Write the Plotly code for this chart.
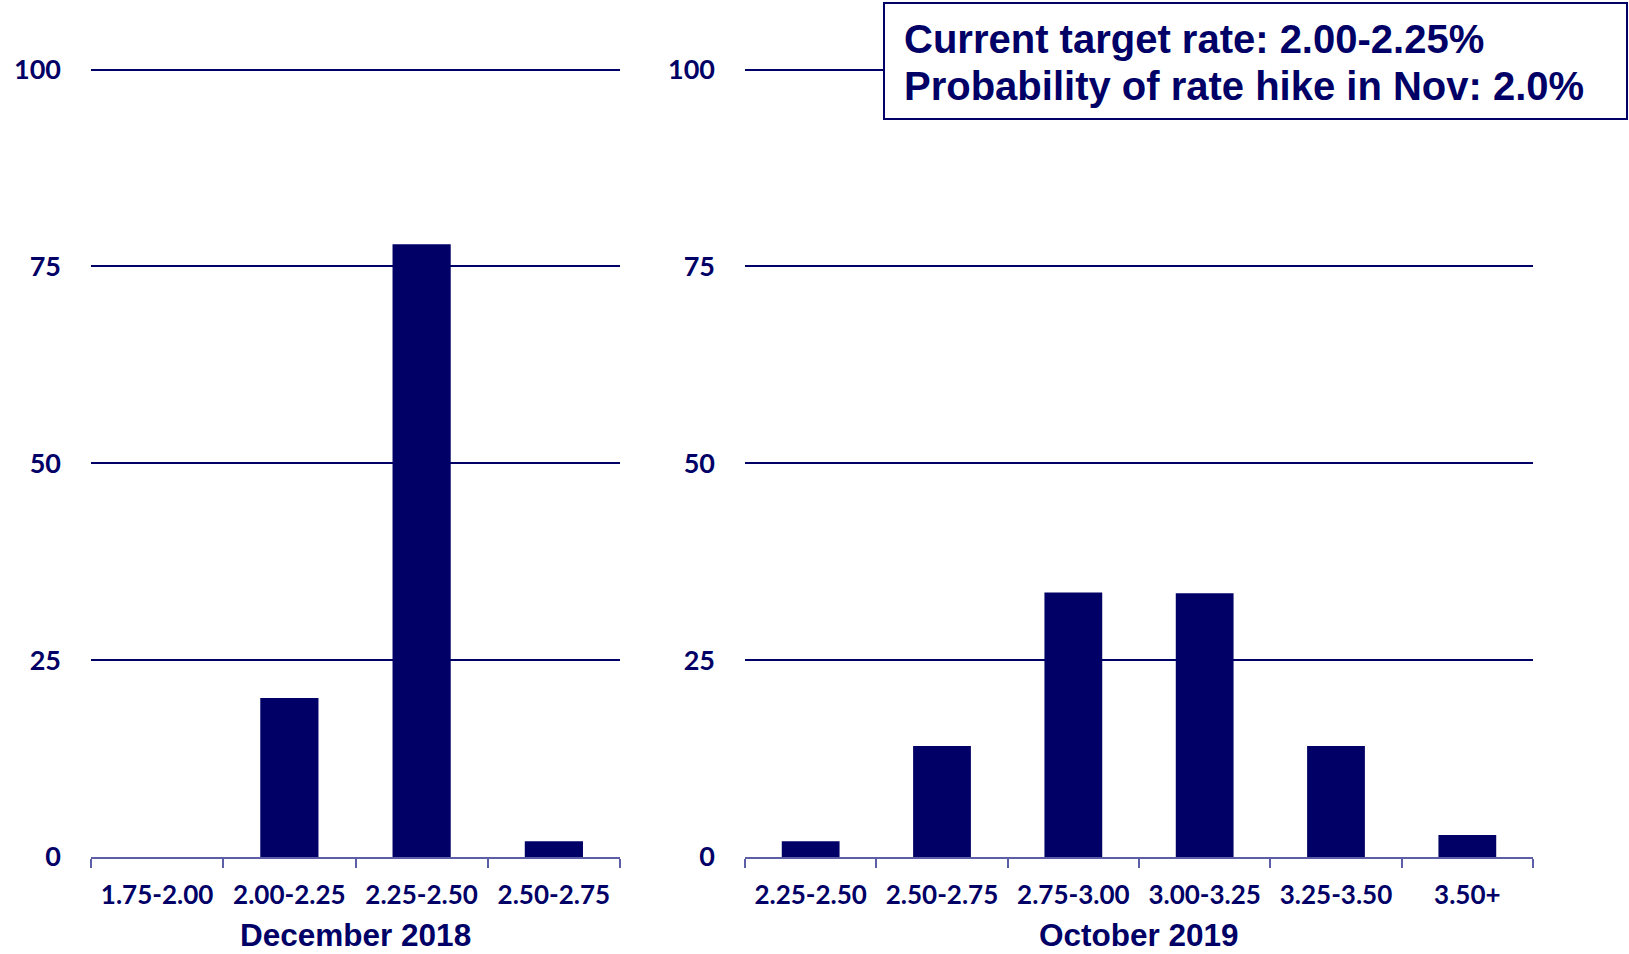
import plotly.graph_objects as go

# ---- data ----
dec_categories = ["1.75-2.00", "2.00-2.25", "2.25-2.50", "2.50-2.75"]
dec_values = [0.0, 20.2, 77.8, 2.0]

oct_categories = ["2.25-2.50", "2.50-2.75", "2.75-3.00", "3.00-3.25", "3.25-3.50", "3.50+"]
oct_values = [2.0, 14.1, 33.6, 33.5, 14.1, 2.8]

y_ticks = [0, 25, 50, 75, 100]
left_title = "December 2018"
right_title = "October 2019"
info_lines = ["Current target rate: 2.00-2.25%", "Probability of rate hike in Nov: 2.0%"]

# ---- style ----
NAVY = "#000066"
AXIS = "#5c5ea8"
W, H = 1629, 954
xtick_font = dict(family="Lato", size=26, color=NAVY, weight="bold")
ytick_font = dict(family="Lato", size=27, color=NAVY, weight="bold")
title_font = dict(family="Liberation Sans", size=31.5, color=NAVY)

fig = go.Figure()
fig.add_trace(go.Bar(x=dec_categories, y=dec_values, xaxis="x", yaxis="y",
                     marker=dict(color=NAVY, line=dict(width=0)),
                     width=0.44, showlegend=False))
fig.add_trace(go.Bar(x=oct_categories, y=oct_values, xaxis="x2", yaxis="y2",
                     marker=dict(color=NAVY, line=dict(width=0)),
                     width=0.44, showlegend=False))

y_bottom = 1 - 857 / H
y_top = 1 - 67.2 / H
left_dom = [91 / W, 620 / W]
right_dom = [745 / W, 1533 / W]

xcommon = dict(type="category", showline=True, linecolor=AXIS, linewidth=2,
               ticks="outside", tickson="boundaries", ticklen=9, tickcolor=AXIS, tickwidth=1.5,
               tickfont=xtick_font, showgrid=False, zeroline=False, ticklabelstandoff=14,
               fixedrange=True, automargin=False)
ycommon = dict(range=[0, 100.3], tickvals=y_ticks, showgrid=True, gridcolor=NAVY, gridwidth=1.5,
               zeroline=False, showline=False, ticks="", tickfont=ytick_font,
               ticklabelstandoff=29, domain=[y_bottom, y_top], fixedrange=True, automargin=False)

fig.update_layout(
    width=W, height=H,
    margin=dict(l=0, r=0, t=0, b=0),
    paper_bgcolor="white", plot_bgcolor="white",
    bargap=0.56,
    xaxis=dict(domain=left_dom, anchor="y", **xcommon),
    yaxis=dict(anchor="x", **ycommon),
    xaxis2=dict(domain=right_dom, anchor="y2", **xcommon),
    yaxis2=dict(anchor="x2", **ycommon),
)

# axis titles
fig.add_annotation(text=f"<b>{left_title}</b>", xref="paper", yref="paper",
                   x=(left_dom[0] + left_dom[1]) / 2, y=1 - 935 / H, xanchor="center", yanchor="middle",
                   showarrow=False, font=title_font)
fig.add_annotation(text=f"<b>{right_title}</b>", xref="paper", yref="paper",
                   x=(right_dom[0] + right_dom[1]) / 2, y=1 - 935 / H, xanchor="center", yanchor="middle",
                   showarrow=False, font=title_font)

# info box
fig.add_shape(type="rect", xref="paper", yref="paper",
              x0=884 / W, x1=1627 / W, y0=1 - 119 / H, y1=1 - 3 / H,
              line=dict(color=NAVY, width=2), fillcolor="white", layer="above")
for line, yc in zip(info_lines, [39, 86]):
    fig.add_annotation(text=f"<b>{line}</b>", xref="paper", yref="paper",
                       x=902 / W, y=1 - yc / H, xanchor="left", yanchor="middle", align="left",
                       showarrow=False, font=dict(family="Liberation Sans", size=40, color=NAVY))

fig.write_html("out.html")
